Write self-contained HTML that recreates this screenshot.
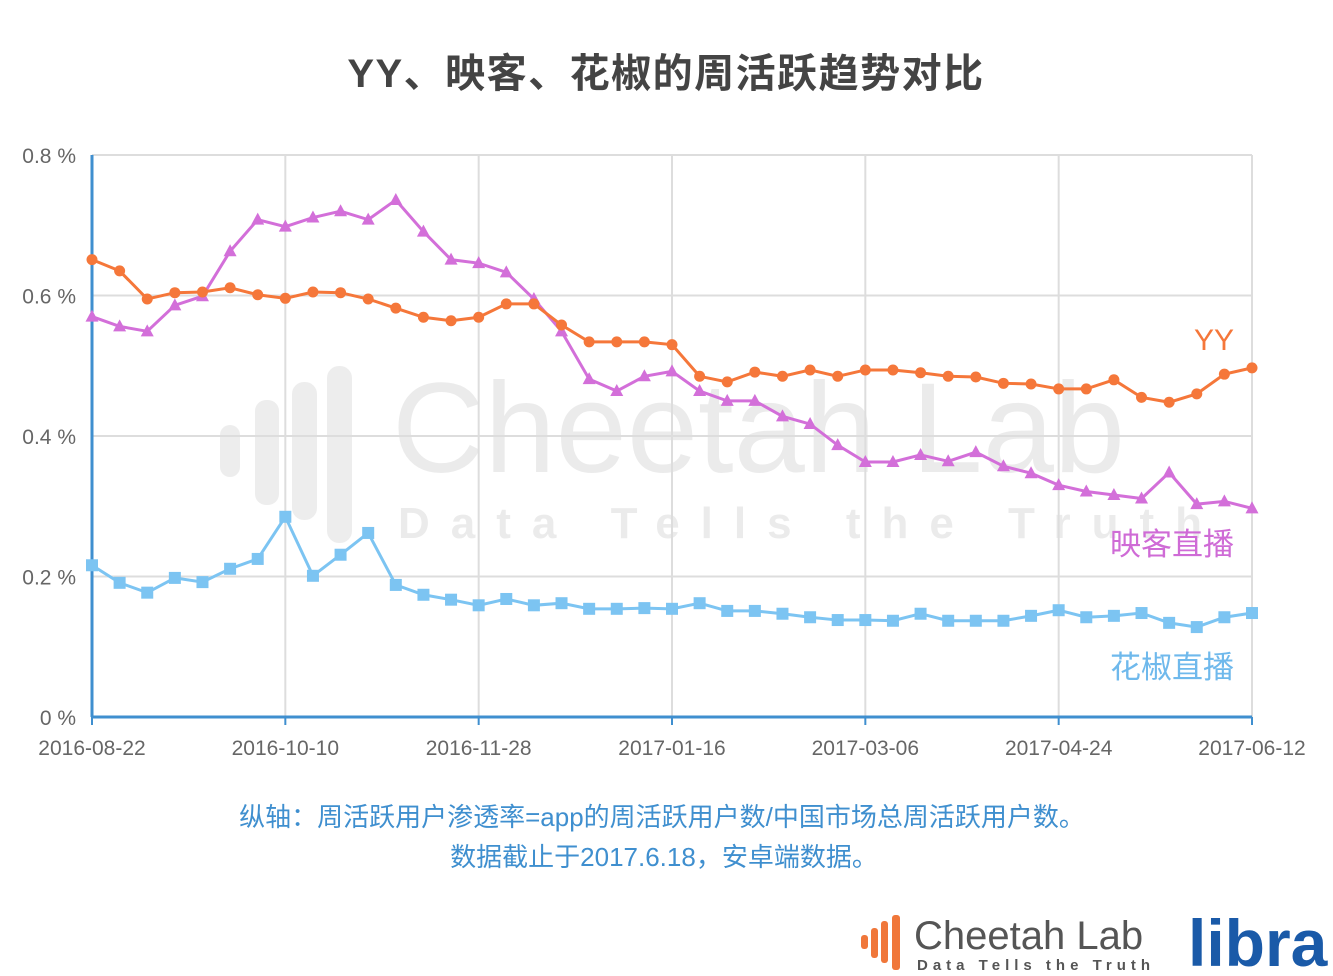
<!DOCTYPE html>
<html><head><meta charset="utf-8">
<style>
body{margin:0;width:1333px;height:976px;background:#fff;overflow:hidden;font-family:"Liberation Sans","Noto Sans CJK SC",sans-serif;}
svg{position:absolute;left:0;top:0}
</style></head><body>
<svg id="c" width="1333" height="976">
<text x="666" y="87" text-anchor="middle" font-size="40" letter-spacing="1.5" font-weight="bold" fill="#444" font-family="Liberation Sans,Noto Sans CJK SC,sans-serif">YY、映客、花椒的周活跃趋势对比</text>
<g opacity="0.1">
<rect x="220" y="425" width="20" height="52" rx="10" fill="#555"/>
<rect x="255" y="400" width="24" height="105" rx="11" fill="#555"/>
<rect x="292" y="382" width="25" height="138" rx="12" fill="#555"/>
<rect x="327" y="366" width="25" height="177" rx="12" fill="#555"/>
<text x="392" y="472" font-size="128" fill="#444" font-family="Liberation Sans,sans-serif">Cheetah Lab</text>
<text x="398" y="538" font-size="44" font-weight="bold" letter-spacing="21" fill="#444" font-family="Liberation Sans,sans-serif">Data Tells the Truth</text>
</g>
<g id="grid"></g><g id="series"></g>
<text x="1214" y="350" text-anchor="middle" font-size="30" fill="#f5773a">YY</text>
<text x="1172" y="555" text-anchor="middle" font-size="31" fill="#cf6bd6">映客直播</text>
<text x="1172" y="678" text-anchor="middle" font-size="31" fill="#6fb9ec">花椒直播</text>
<text x="662" y="826" text-anchor="middle" font-size="26" fill="#3f8fcf">纵轴：周活跃用户渗透率=app的周活跃用户数/中国市场总周活跃用户数。</text>
<text x="664" y="866" text-anchor="middle" font-size="26" fill="#3f8fcf">数据截止于2017.6.18，安卓端数据。</text>
<g>
<rect x="861" y="935" width="7" height="14" rx="3" fill="#f0773a"/>
<rect x="871" y="928" width="7" height="30" rx="3" fill="#f0773a"/>
<rect x="881" y="921" width="7" height="42" rx="3" fill="#f0773a"/>
<rect x="892" y="915" width="8" height="55" rx="3" fill="#f0773a"/>
<text x="914" y="949" font-size="40" fill="#555" font-family="Liberation Sans,sans-serif">Cheetah Lab</text>
<text x="917" y="970" font-size="15" font-weight="bold" letter-spacing="5" fill="#555" font-family="Liberation Sans,sans-serif">Data Tells the Truth</text>
<text x="1188" y="966" font-size="66" font-weight="bold" fill="#1a5aa8" font-family="Liberation Sans,sans-serif">libra</text>
</g>
</svg>
<script>
const categories=["2016-08-22","2016-10-10","2016-11-28","2017-01-16","2017-03-06","2017-04-24","2017-06-12"];
const yTicks=[0,0.2,0.4,0.6,0.8];
const yyValues=[0.651,0.635,0.595,0.604,0.605,0.611,0.601,0.596,0.605,0.604,0.595,0.582,0.569,0.564,0.569,0.588,0.588,0.558,0.534,0.534,0.534,0.530,0.485,0.477,0.491,0.485,0.494,0.485,0.494,0.494,0.490,0.485,0.484,0.475,0.474,0.467,0.467,0.480,0.455,0.448,0.460,0.488,0.497];
const yingkeValues=[0.570,0.556,0.549,0.586,0.599,0.663,0.708,0.698,0.711,0.720,0.708,0.736,0.691,0.651,0.646,0.633,0.595,0.549,0.481,0.464,0.485,0.492,0.464,0.450,0.450,0.428,0.417,0.387,0.363,0.363,0.373,0.364,0.377,0.357,0.347,0.330,0.321,0.316,0.311,0.348,0.303,0.307,0.297];
const huajiaoValues=[0.216,0.191,0.177,0.198,0.192,0.211,0.225,0.285,0.201,0.231,0.262,0.188,0.174,0.167,0.159,0.168,0.159,0.162,0.154,0.154,0.155,0.154,0.162,0.151,0.151,0.147,0.142,0.138,0.138,0.137,0.147,0.137,0.137,0.137,0.144,0.152,0.142,0.144,0.148,0.134,0.128,0.142,0.148];
const NS="http://www.w3.org/2000/svg";
const x0=92,x1=1252,y0=717,y1=155,n=yyValues.length;
const xs=i=>x0+i*(x1-x0)/(n-1);
const ys=v=>y0-(v/0.8)*(y0-y1);
function mk(tag,attrs,parent){const e=document.createElementNS(NS,tag);for(const k in attrs)e.setAttribute(k,attrs[k]);parent.appendChild(e);return e;}
const grid=document.getElementById('grid');
yTicks.forEach(t=>{
 const l=mk('line',{x1:x0,x2:x1,y1:ys(t),y2:ys(t),stroke:'#ddd','stroke-width':2},grid);
 
 
 const tx=mk('text',{x:76,y:ys(t)+8,'text-anchor':'end','font-size':21,fill:'#666'},grid);
 tx.textContent=(t===0?'0':t.toFixed(1))+' %';
 
 
});
categories.forEach((c,k)=>{
 const x=x0+k*(x1-x0)/(categories.length-1);
 if(k>0){const l=mk('line',{x1:x,x2:x,y1:y1,y2:y0,stroke:'#ddd','stroke-width':2},grid);
 
 }
 mk('line',{x1:x,x2:x,y1:y0,y2:y0+8,stroke:'#3f8fcf','stroke-width':2},grid);
 const tx=mk('text',{x:x,y:755,'text-anchor':'middle','font-size':21,fill:'#666'},grid);
 tx.textContent=c;
 
 
});
const ax=mk('line',{x1:x0,x2:x0,y1:y1,y2:y0,stroke:'#3f8fcf','stroke-width':3},grid);


const bx=mk('line',{x1:x0,x2:x1,y1:y0,y2:y0,stroke:'#3f8fcf','stroke-width':3},grid);


const sg=document.getElementById('series');
function series(vals,color,shape,name){
 const g=mk('g',{},sg);
 
 
 mk('polyline',{points:vals.map((v,i)=>xs(i)+','+ys(v)).join(' '),fill:'none',stroke:color,'stroke-width':3},g);
 vals.forEach((v,i)=>{
  const x=xs(i),y=ys(v);let m;
  if(shape==='c')m=mk('circle',{cx:x,cy:y,r:5.5,fill:color},g);
  else if(shape==='t')m=mk('polygon',{points:`${x},${y-7} ${x-6.5},${y+5} ${x+6.5},${y+5}`,fill:color},g);
  else m=mk('rect',{x:x-6,y:y-6,width:12,height:12,fill:color},g);
  
  
 });
}
series(huajiaoValues,'#7cc4f2','s','huajiao-series');
series(yingkeValues,'#d36fd9','t','yingke-series');
series(yyValues,'#f5773a','c','yy-series');
</script>
</body></html>
